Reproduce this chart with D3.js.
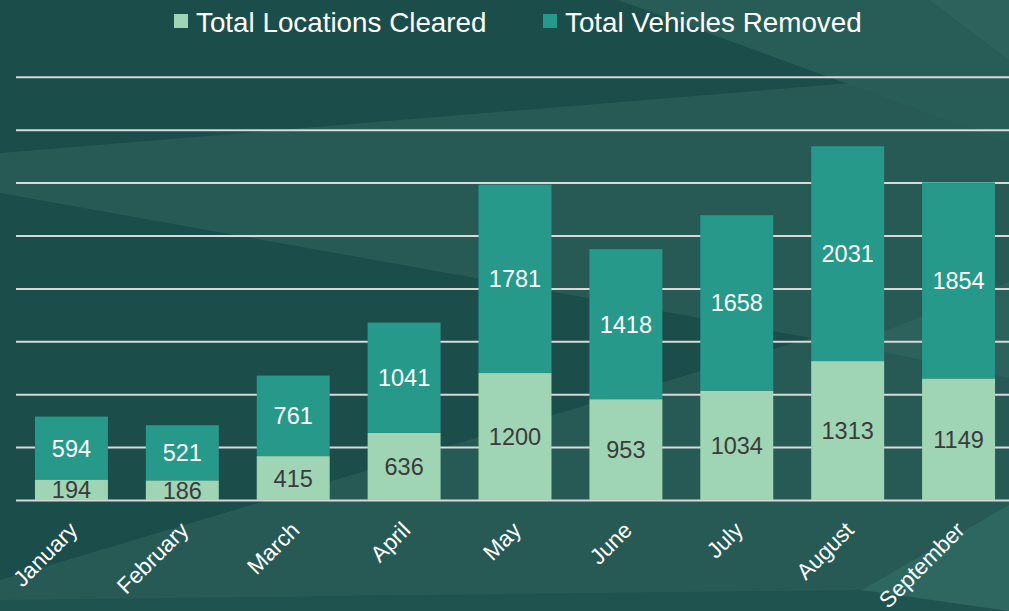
<!DOCTYPE html>
<html>
<head>
<meta charset="utf-8">
<script src="https://cdn.jsdelivr.net/npm/d3@7"></script>
<style>
  html, body { margin: 0; padding: 0; background: #1b4d4b; }
  #chart { width: 1009px; height: 611px; }
</style>
</head>
<body>
<div id="chart"></div>
<script>
var months = ["January", "February", "March", "April", "May", "June", "July", "August", "September"];
var locationsCleared = [194, 186, 415, 636, 1200, 953, 1034, 1313, 1149];
var vehiclesRemoved = [594, 521, 761, 1041, 1781, 1418, 1658, 2031, 1854];
var yTicks = [0, 500, 1000, 1500, 2000, 2500, 3000, 3500, 4000];
var seriesNames = ["Total Locations Cleared", "Total Vehicles Removed"];

var svgwidth = 1009;
var svgheight = 611;
var font = "'Liberation Sans', Arial, sans-serif";

var svg = d3
  .select("#chart")
  .append("svg")
  .attr("width", svgwidth)
  .attr("height", svgheight);

// background facets
var bg = svg.append("g");
bg.append("rect").attr("width", svgwidth).attr("height", svgheight).attr("fill", "#1b4d4b");
var facets = [
  { pts: [[0, 153], [1009, 70], [1009, 611], [0, 611]], fill: "#275a55" },
  { pts: [[0, 193], [811, 338], [0, 580]], fill: "#1b4d4b" },
  { pts: [[618, 0], [1009, 0], [1009, 143]], fill: "#285c57" },
  { pts: [[930, 0], [1009, 0], [1009, 60]], fill: "#2d625c" },
  { pts: [[850, 345], [1009, 282], [1009, 378]], fill: "#2d625c" },
  { pts: [[0, 600], [860, 590], [1009, 611], [0, 611]], fill: "#1e5350" },
  { pts: [[862, 590], [1009, 505], [1009, 611]], fill: "#2e6660" }
];
bg.selectAll("polygon")
  .data(facets)
  .enter()
  .append("polygon")
  .attr("points", (d) => d.pts.map((p) => p.join(",")).join(" "))
  .attr("fill", (d) => d.fill);

var plotLeft = 16;
var plotRight = 1014;
var xscale = d3.scaleBand().domain(months).range([plotLeft, plotRight]).paddingInner(0.342).paddingOuter(0.171);
var yscale = d3.scaleLinear().domain([0, 4000]).range([500, 76.8]);

// gridlines
var yaxis = d3.axisLeft(yscale).tickValues(yTicks).tickSize(-(svgwidth - plotLeft)).tickFormat("");
svg
  .append("g")
  .attr("transform", "translate(" + plotLeft + ",0)")
  .call(yaxis)
  .call((g) => g.select(".domain").remove())
  .selectAll("line")
  .attr("stroke", "#d9d9d9")
  .attr("stroke-width", 2);

var stackData = months.map(function (m, i) {
  return { month: m, loc: locationsCleared[i], veh: vehiclesRemoved[i] };
});
var stack = d3.stack().keys(["loc", "veh"]);
var series = stack(stackData);
var colors = ["#9fd4b4", "#26998a"];
var labelColors = ["#3b3b3b", "#ffffff"];

var layers = svg
  .selectAll(".layer")
  .data(series)
  .enter()
  .append("g")
  .attr("class", "layer");

layers
  .selectAll("rect")
  .data((d, i) => d.map((v) => ({ v: v, i: i })))
  .enter()
  .append("rect")
  .attr("x", (d) => xscale(d.v.data.month))
  .attr("y", (d) => yscale(d.v[1]))
  .attr("width", xscale.bandwidth())
  .attr("height", (d) => yscale(d.v[0]) - yscale(d.v[1]))
  .attr("fill", (d) => colors[d.i]);

layers
  .selectAll("text")
  .data((d, i) => d.map((v) => ({ v: v, i: i })))
  .enter()
  .append("text")
  .attr("x", (d) => xscale(d.v.data.month) + xscale.bandwidth() / 2)
  .attr("y", (d) => (yscale(d.v[0]) + yscale(d.v[1])) / 2)
  .attr("dy", "0.36em")
  .attr("text-anchor", "middle")
  .style("font-family", font)
  .style("font-size", "23.5px")
  .attr("fill", (d) => labelColors[d.i])
  .text((d) => d.v[1] - d.v[0]);

// x axis labels
var xaxis = d3.axisBottom(xscale).tickSize(0);
svg
  .append("g")
  .attr("transform", "translate(0,500)")
  .call(xaxis)
  .call((g) => g.select(".domain").remove())
  .selectAll("text")
  .style("font-family", font)
  .style("font-size", "22.5px")
  .attr("fill", "#ffffff")
  .style("text-anchor", "end")
  .attr("dy", "0.35em")
  .attr("y", 0)
  .attr("transform", "translate(2,26) rotate(-45)");

// legend
var legendX = [174, 543];
var legend = svg
  .selectAll(".legend")
  .data(seriesNames)
  .enter()
  .append("g")
  .attr("class", "legend")
  .attr("transform", (d, i) => "translate(" + legendX[i] + ",14)");
legend.append("rect").attr("width", 14).attr("height", 14).attr("fill", (d, i) => colors[i]);
legend
  .append("text")
  .attr("x", 22)
  .attr("y", 18)
  .style("font-family", font)
  .style("font-size", "27.8px")
  .attr("fill", "#ffffff")
  .text((d) => d);
</script>
</body>
</html>
